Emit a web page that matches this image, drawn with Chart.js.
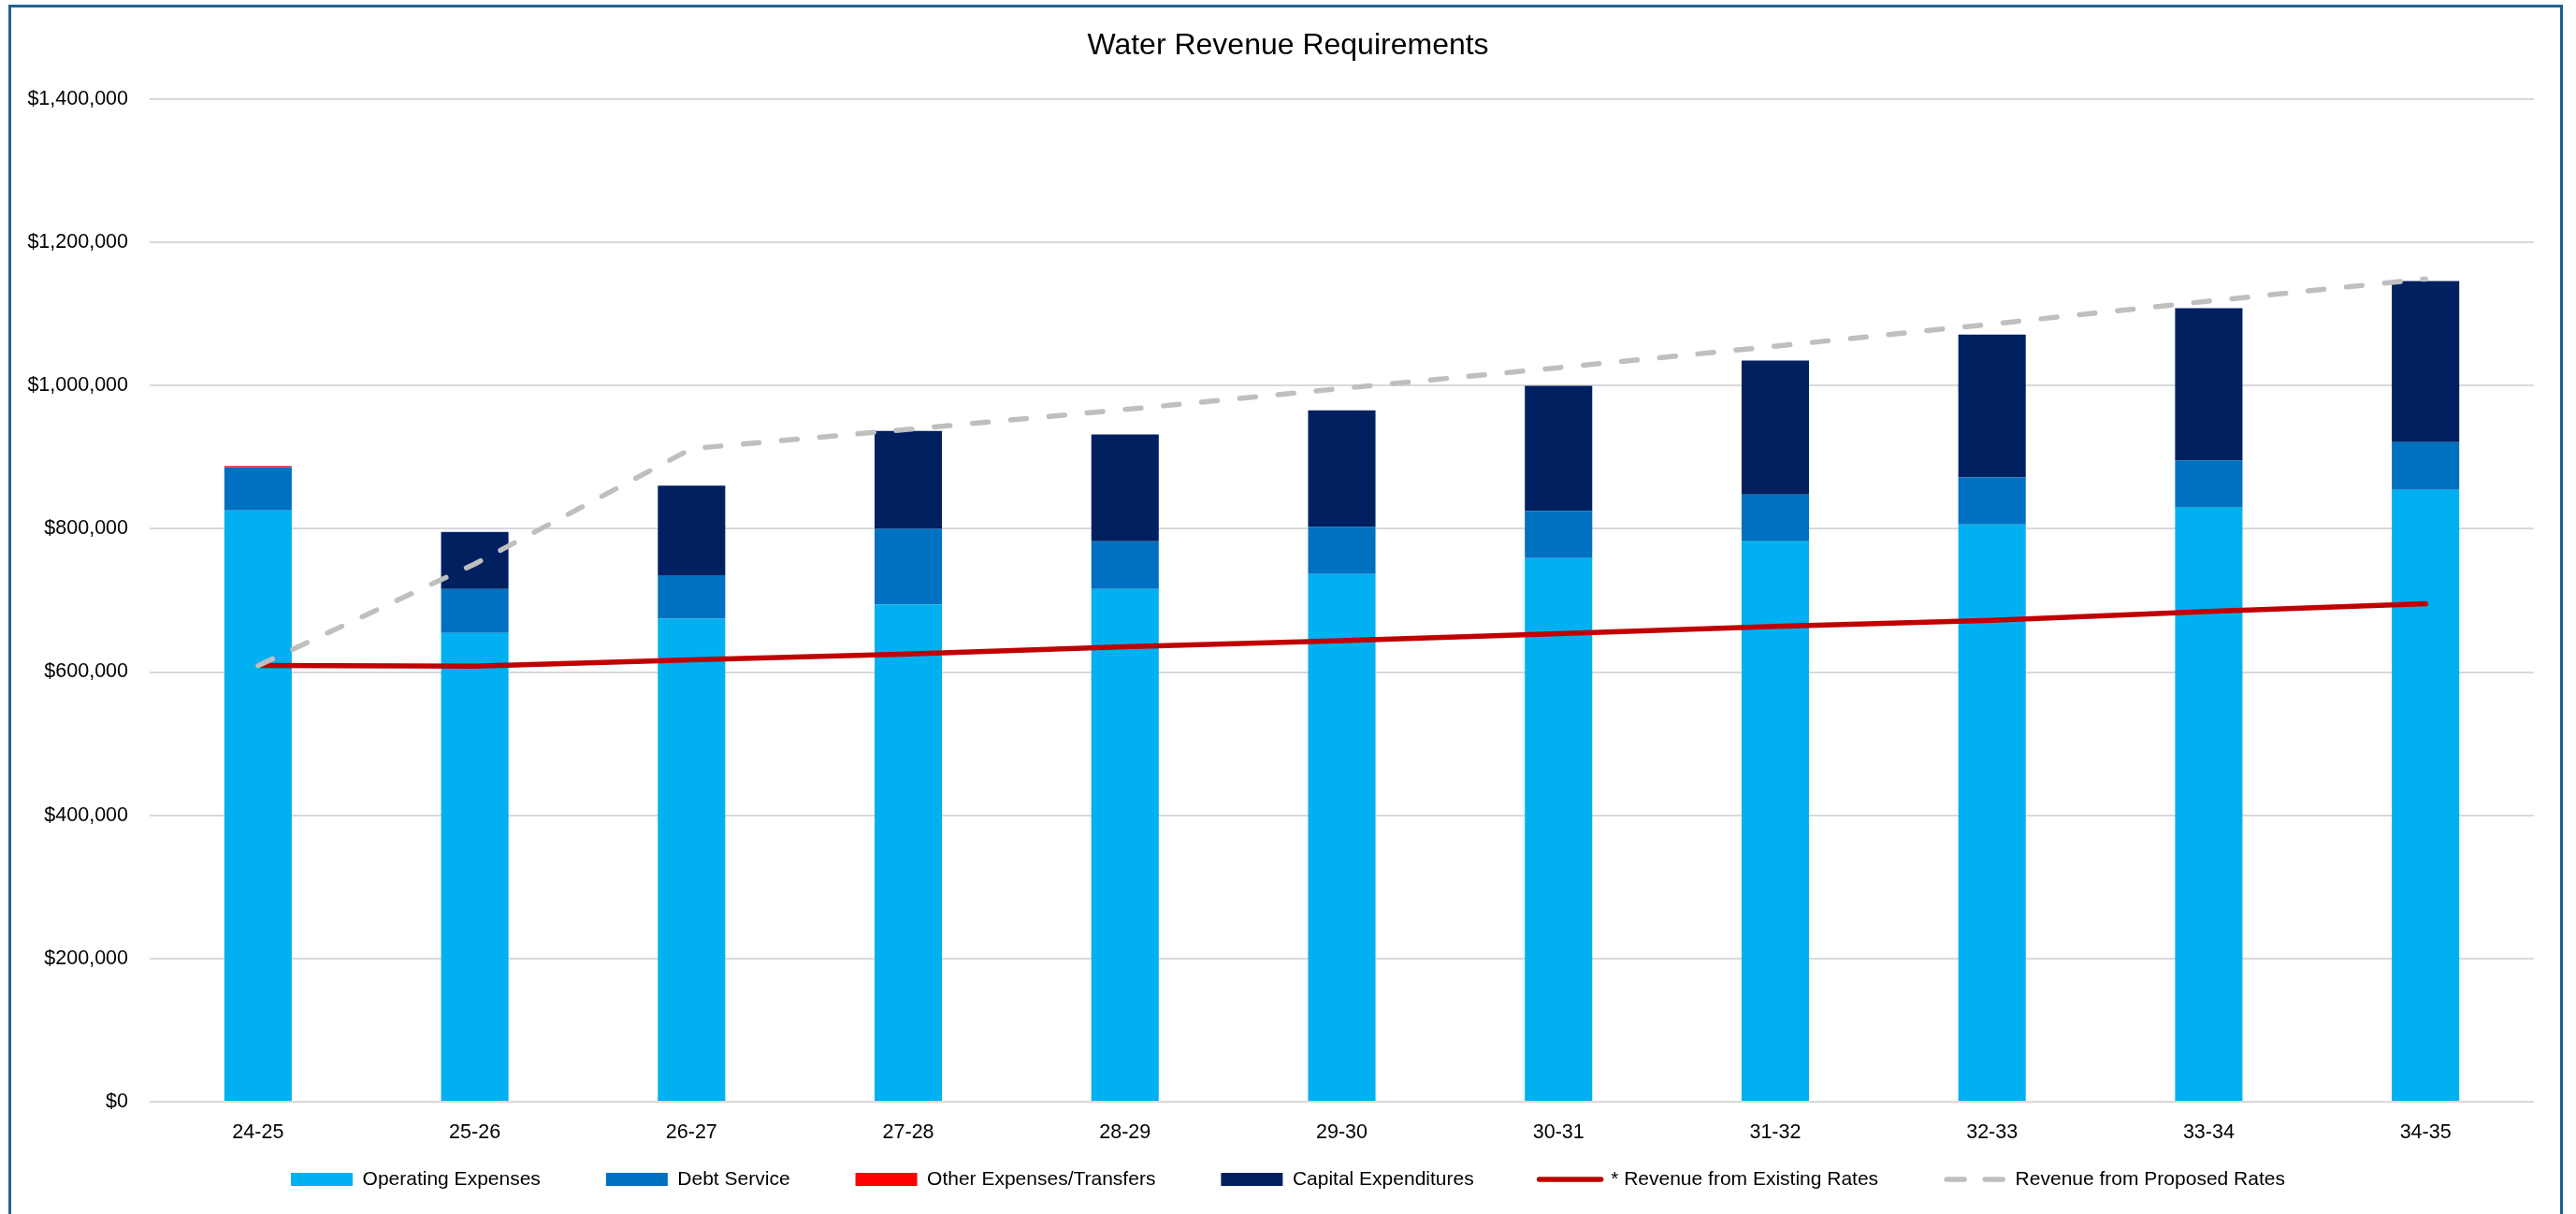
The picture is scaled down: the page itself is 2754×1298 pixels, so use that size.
<!DOCTYPE html>
<html>
<head>
<meta charset="utf-8">
<script src="https://cdn.jsdelivr.net/npm/chart.js@4.4.1/dist/chart.umd.min.js"></script>
<style>
  html, body { margin: 0; padding: 0; background: #ffffff; overflow: hidden; }
  #wrap { position: relative; width: 2754px; height: 1298px; }
  #c { position: absolute; left: 0; top: 0; }
  #frame { position: absolute; left: 9px; top: 5px; width: 2731px; height: 1320px;
           box-sizing: border-box; border: 3.5px solid #1F6290; pointer-events: none; }
</style>
</head>
<body>
<div id="wrap">
  <canvas id="c" width="2754" height="1298"></canvas>
  <div id="frame"></div>
</div>
<script>
const categories = ['24-25', '25-26', '26-27', '27-28', '28-29', '29-30', '30-31', '31-32', '32-33', '33-34', '34-35'];
const operatingExpenses = [825600, 654500, 674500, 694600, 715900, 736800, 759000, 782500, 806000, 829500, 854300];
const debtService = [60500, 61400, 60900, 105200, 66600, 66200, 66200, 65300, 66200, 66200, 66600];
const otherExpenses = [1500, 0, 0, 0, 0, 0, 0, 0, 0, 0, 0];
const capitalExpenditures = [0, 79600, 125000, 136800, 149300, 162400, 174500, 187200, 199000, 212400, 225100];
const revenueExisting = [609100, 608300, 617000, 625300, 635300, 644000, 653600, 663600, 672300, 684500, 695300];
const revenueProposed = [609000, 751000, 912000, 939000, 966600, 996000, 1025000, 1055000, 1086000, 1118000, 1149000];
const yTicks = [0, 200000, 400000, 600000, 800000, 1000000, 1200000, 1400000];

const FONT = "'Liberation Sans', Arial, sans-serif";
const LEGEND_PAD = 70;

const barCommon = { type: 'bar', stack: 'req', barPercentage: 0.311, categoryPercentage: 1.0, borderWidth: 0, pointStyle: 'rect', order: 0 };

new Chart(document.getElementById('c'), {
  data: {
    labels: categories,
    datasets: [
      Object.assign({}, barCommon, { label: 'Operating Expenses', data: operatingExpenses, backgroundColor: '#00B0F0', borderColor: '#00B0F0' }),
      Object.assign({}, barCommon, { label: 'Debt Service', data: debtService, backgroundColor: '#0070C0', borderColor: '#0070C0' }),
      Object.assign({}, barCommon, { label: 'Other Expenses/Transfers', data: otherExpenses, backgroundColor: '#FF0000', borderColor: '#FF0000' }),
      Object.assign({}, barCommon, { label: 'Capital Expenditures', data: capitalExpenditures, backgroundColor: '#002060', borderColor: '#002060' }),
      { type: 'line', label: '* Revenue from Existing Rates', data: revenueExisting, stack: 'existing',
        borderColor: '#C00000', backgroundColor: '#C00000', borderWidth: 5.5, borderCapStyle: 'round', borderJoinStyle: 'round',
        pointRadius: 0, pointStyle: 'line', fill: false, tension: 0, order: -1 },
      { type: 'line', label: 'Revenue from Proposed Rates', data: revenueProposed, stack: 'proposed',
        borderColor: '#BFBFBF', backgroundColor: '#BFBFBF', borderWidth: 5.5, borderDash: [17, 24], borderCapStyle: 'round', borderJoinStyle: 'round',
        pointRadius: 0, pointStyle: 'line', fill: false, tension: 0, order: -2 }
    ]
  },
  options: {
    responsive: false,
    animation: false,
    devicePixelRatio: 1,
    layout: { padding: { left: 45, right: 45, top: 30, bottom: 16.5 } },
    plugins: {
      title: { display: true, text: 'Water Revenue Requirements', color: '#000000',
               font: { family: FONT, size: 32, weight: 'normal', lineHeight: 1.2 }, padding: { top: 0, bottom: 37.6 } },
      legend: { display: true, position: 'bottom',
        labels: { usePointStyle: true, pointStyleWidth: 66, boxHeight: 14, padding: LEGEND_PAD, color: '#000000',
                  font: { family: FONT, size: 21 },
                  sort: (a, b) => a.datasetIndex - b.datasetIndex,
                  generateLabels: (chart) => {
                    const items = Chart.defaults.plugins.legend.labels.generateLabels(chart);
                    items.forEach((it) => {
                      const ds = chart.data.datasets[it.datasetIndex];
                      if (ds.type === 'line') {
                        it.strokeStyle = ds.borderColor;
                        it.lineWidth = ds.borderWidth;
                        it.lineCap = 'round';
                        it.lineDash = ds.borderDash ? [19, 22] : [];
                        it.lineDashOffset = ds.borderDash ? -3 : 0;
                      }
                    });
                    return items;
                  } } },
      tooltip: { enabled: false }
    },
    scales: {
      x: { stacked: true, offset: true,
           grid: { display: false, drawTicks: false }, border: { display: false },
           ticks: { color: '#000000', padding: 20, font: { family: FONT, size: 21.5 }, maxRotation: 0, autoSkip: false },
           afterFit: (s) => { s.height = 72.5 - LEGEND_PAD; s._computeLabelArea = () => undefined; } },
      y: { stacked: true, min: 0, max: 1400000,
           afterBuildTicks: (s) => { s.ticks = yTicks.map(v => ({ value: v })); },
           grid: { color: '#D9D9D9', lineWidth: 2, drawTicks: false }, border: { display: false },
           ticks: { color: '#000000', padding: 23, font: { family: FONT, size: 21.5 },
                    callback: (v) => '$' + Number(v).toLocaleString('en-US') },
           afterFit: (s) => { s.width = 115; s._computeLabelArea = () => undefined; } }
    }
  }
});
</script>
</body>
</html>
